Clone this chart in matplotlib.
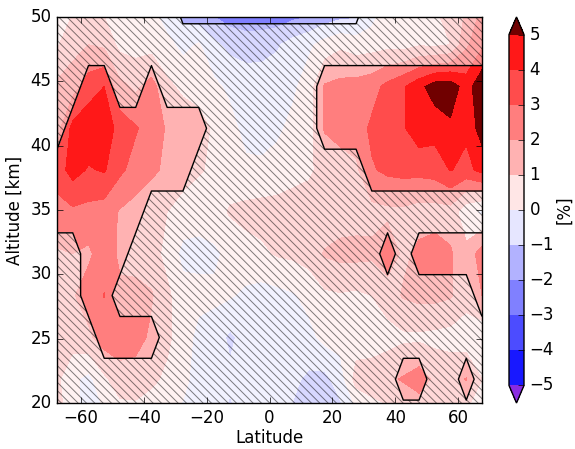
"""Altitude-latitude change with significance hatching -> out.png"""

import matplotlib

matplotlib.use("Agg")

import matplotlib.pyplot as plt
import numpy as np


# grid (latitude bin centres, altitude levels)
lat = [-67.5, -62.5, -57.5, -52.5, -47.5, -42.5, -37.5, -32.5, -27.5, -22.5,
       -17.5, -12.5, -7.5, -2.5, 2.5, 7.5, 12.5, 17.5, 22.5, 27.5,
       32.5, 37.5, 42.5, 47.5, 52.5, 57.5, 62.5, 67.5]
alt = [18.6, 21.85, 25.1, 28.35, 31.6, 34.85, 38.1, 41.35, 44.6, 47.85, 51.1]

# change [%], one row per altitude level (bottom to top)
change = [
    [1.5, 0.4, -0.5, -0.2, 0.3, 0.5, 0.3, 0.1, -0.2, -0.3,
     -0.8, -1.3, -0.7, -0.3, -0.5, -1.2, -1.8, -1.7, -1.5,
     -0.5, 0.3, 0.5, 0.8, 1.0, 1.0, 0.8, 0.7, 0.6],
    [1.2, 0.2, -0.3, 0.8, 1.6, 1.5, 1.2, 0.8, 0.2, -0.3,
     -0.6, -0.8, -0.5, -0.3, -0.4, -0.8, -1.2, -1.3, -0.5,
     1.4, 1.5, 1.8, 2.1, 2.5, 1.8, 1.7, 2.05, 1.0],
    [1.3, 1.5, 1.8, 2.5, 2.5, 2.4, 1.8, 1.2, 0.5, -0.3,
     -0.5, -1.2, -0.6, -0.5, -0.5, -0.5, -0.3, 0.3, 0.4,
     0.5, 0.5, 0.6, 0.8, 0.8, 0.7, 0.6, 0.4, 0.3],
    [1.5, 1.9, 2.5, 3.03, 2.2, 2.3, 2.1, 1.2, 0.4, 0.3,
     0.2, 0.1, -0.2, -0.4, -0.3, -0.1, 0.3, 0.8, 0.9,
     0.8, 1.0, 1.5, 2.1, 2.3, 2.3, 2.1, 1.4, 2.0],
    [1.9, 2.0, 1.8, 2.6, 1.8, 1.6, 1.4, 0.7, -0.3, -0.3,
     -0.2, 0.3, 0.6, 0.8, 1.1, 1.2, 1.4, 2.1, 2.3,
     2.3, 2.2, 2.6, 1.8, 2.2, 2.4, 2.1, 1.3, 2.5],
    [2.6, 2.8, 2.7, 2.5, 1.9, 1.6, 1.3, 1.0, 0.6, 0.4,
     0.6, 1.1, 1.3, 1.4, 1.4, 1.4, 1.3, 1.2, 1.5,
     1.6, 1.7, 1.8, 1.8, 1.6, 1.6, 1.6, 0.3, -0.2],
    [3.5, 4.4, 3.9, 4.1, 3.2, 2.6, 2.2, 1.8, 1.4, 1.1,
     0.8, 0.5, 0.2, 0.2, 0.4, 0.7, 0.9, 1.2, 1.5,
     1.8, 2.9, 3.2, 3.3, 3.3, 3.4, 4.05, 3.7, 4.3],
    [2.6, 4.3, 4.7, 4.8, 3.5, 3.1, 2.5, 1.9, 1.6, 1.5,
     0.8, 0.3, -0.3, -0.4, -0.2, 0.3, 0.6, 2.1, 2.4,
     2.5, 3.2, 3.5, 3.9, 4.6, 4.4, 4.8, 4.2, 5.5],
    [2.2, 2.6, 3.5, 4.0, 2.3, 1.8, 2.4, 1.2, 0.8, 0.5,
     0.2, -0.2, -0.5, -0.6, -0.5, -0.2, 0.5, 2.1, 2.3,
     2.4, 2.6, 3.3, 3.9, 4.7, 5.5, 5.6, 4.5, 5.8],
    [0.9, 1.6, 2.0, 1.8, 0.7, 0.6, 0.6, 0.3, -0.3, 0.1,
     -0.8, -1.3, -1.4, -1.3, -1.1, -0.6, -0.2, 0.4, 0.8,
     0.5, 0.6, 0.7, 0.6, 0.9, 0.8, 1.0, 2.8, 3.8],
    [0.5, 0.8, 0.8, 0.6, 0.4, 0.3, 0.0, -0.8, -1.7, -2.3,
     -2.6, -3.0, -3.3, -3.4, -3.3, -3.0, -2.9, -2.5, -2.2,
     -1.9, -0.8, 0.2, 0.5, 0.8, 1.0, 1.2, 2.0, 3.0],
]

# 1 = significant (not hatched), same layout as change
significant = [
    "0000000000000000000000000000",
    "0000000000000000000000110010",
    "0001111000000000000000000000",
    "0011000000000000000000000001",
    "0011100000000000000001011111",
    "1111110000000000000000000000",
    "1111111110000000000011111111",
    "0111111111000000011111111111",
    "0011001000000000011111111111",
    "0000000000000000000000000000",
    "0000000011111111111100000000",
]

levels = [-5, -4, -3, -2, -1, 0, 1, 2, 3, 4, 5]
xticks = [-60, -40, -20, 0, 20, 40, 60]
yticks = [20, 25, 30, 35, 40, 45, 50]


def main():
    plt.style.use("classic")
    plt.rcParams["figure.facecolor"] = "white"
    plt.rcParams["savefig.facecolor"] = "white"
    plt.rcParams["hatch.color"] = "black"
    plt.rcParams["hatch.linewidth"] = 0.7

    z = np.array(change)
    sig = np.array([[int(ch) for ch in row] for row in significant], dtype=float)

    cmap = plt.get_cmap("bwr").copy()
    cmap.set_over("#700000")
    cmap.set_under("#8a2be2")

    fig = plt.figure(figsize=(5.75, 4.49), dpi=100)
    ax = fig.add_axes([57 / 575, 46 / 449, 425 / 575, 386 / 449])
    cax = fig.add_axes([509 / 575, 46 / 449, 15 / 575, 386 / 449])

    cs = ax.contourf(lat, alt, z, levels=levels, cmap=cmap, extend="both")
    ax.contourf(lat, alt, sig, levels=[-0.5, 0.5], colors="white",
                alpha=0.5, hatches=["\\\\\\\\"])
    ax.contour(lat, alt, sig, levels=[0.5], colors="k", linewidths=1.0)

    ax.set_xlim(-67.5, 67.5)
    ax.set_ylim(20, 50)
    ax.set_xticks(xticks)
    ax.set_yticks(yticks)
    ax.set_xlabel("Latitude", labelpad=2)
    ax.set_ylabel("Altitude [km]")

    cb = fig.colorbar(cs, cax=cax, ticks=levels)
    cb.set_label("[%]", labelpad=1)

    fig.savefig("out.png", dpi=100)


if __name__ == "__main__":
    main()
